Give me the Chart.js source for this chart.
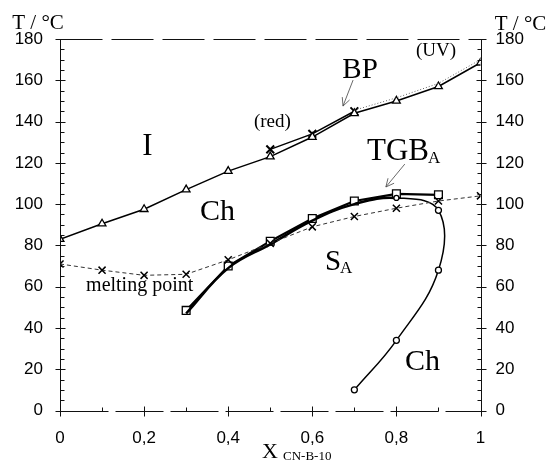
<!DOCTYPE html>
<html>
<head>
<meta charset="utf-8">
<script src="https://cdn.jsdelivr.net/npm/chart.js@4"></script>
<style>
html, body { margin: 0; padding: 0; background: #fff; }
#wrap { width: 551px; height: 468px; }
</style>
</head>
<body>
<div id="wrap"><canvas id="myChart" width="551" height="468"></canvas></div>
<script>
// mole fraction of CN-B-10
var compX = [0, 0.1, 0.2, 0.3, 0.4, 0.5, 0.6, 0.7, 0.8, 0.9, 1];
// clearing point I -> Ch (triangles)
var clearT = [83, 90.5, 97.5, 107, 116, 123, 132.5, 144, 150, 157, 168.5];
// blue phase, red light (crosses)
var redX = [0.5, 0.6, 0.7];
var redT = [126.5, 134, 145];
// UV measurement (dotted)
var uvX = [0.7, 0.8, 0.9, 1];
var uvT = [145.5, 151.5, 158.5, 170];
// melting point (dashed, crosses)
var meltT = [71, 68, 65.5, 66, 73, 81, 89, 94, 98, 101.5, 104];
// Ch -> TGBA (squares)
var tgbX = [0.3, 0.4, 0.5, 0.6, 0.7, 0.8, 0.9];
var tgbT = [48.5, 70, 82, 93, 101.5, 105, 104.5];
// SA boundary incl. re-entrant Ch (circles)
var saX = [0.3, 0.4, 0.5, 0.6, 0.7, 0.8, 0.9, 0.9, 0.8, 0.7];
var saT = [47, 69, 80.5, 92, 100, 103, 97, 68, 34, 10];

var xTickLabels = ['0', '0,2', '0,4', '0,6', '0,8', '1'];

function pts(xs, ys) {
    return xs.map(function (x, i) { return { x: x, y: ys[i] }; });
}

var serif = '"Liberation Serif", "Times New Roman", serif';

// texts inside the plot, positioned in data units
var notes = [
    { t: 'I', x: 0.208, y: 123.8, size: 31, align: 'center' },
    { t: 'Ch', x: 0.3745, y: 92.3, size: 30, align: 'center' },
    { t: 'BP', x: 0.7135, y: 161.1, size: 29, align: 'center' },
    { t: '(red)', x: 0.505, y: 137.3, size: 19, align: 'center' },
    { t: '(UV)', x: 0.894, y: 171.8, size: 19, align: 'center' },
    { t: 'TGB', x: 0.730, y: 121.4, size: 31, align: 'left' },
    { t: 'A', x: 0.875, y: 119.9, size: 17, align: 'left' },
    { t: 'S', x: 0.630, y: 68.1, size: 29, align: 'left' },
    { t: 'A', x: 0.666, y: 66.6, size: 17, align: 'left' },
    { t: 'melting point', x: 0.062, y: 57.9, size: 20, align: 'left' },
    { t: 'Ch', x: 0.862, y: 19.6, size: 30, align: 'center' }
];
var arrows = [
    { x0: 0.697, y0: 160.1, x1: 0.673, y1: 147.5 },
    { x0: 0.820, y0: 119.4, x1: 0.775, y1: 108.3 }
];

var overlay = {
    id: 'overlay',
    afterDraw: function (chart) {
        var c = chart.ctx, a = chart.chartArea;
        var xs = chart.scales.x, ys = chart.scales.y;
        var L = Math.round(a.left) + 0.5, R = Math.round(a.right) + 0.5;
        var T = Math.round(a.top) + 0.5, B = Math.round(a.bottom) + 0.5;
        function line(x0, y0, x1, y1) {
            c.beginPath(); c.moveTo(x0, y0); c.lineTo(x1, y1); c.stroke();
        }
        c.save();
        c.strokeStyle = '#111';
        c.lineWidth = 1;
        line(L, T, L, B);
        line(R, T, R, B);
        c.setLineDash([42, 9]);
        line(L, T, R, T);
        c.setLineDash([48, 7]);
        line(L, B, R, B);
        c.setLineDash([]);

        for (var v = 0; v <= 180; v += 5) {
            var y = Math.round(ys.getPixelForValue(v)) + 0.5;
            if (v % 20 === 0) {
                line(L - 5, y, L + 5, y);
                line(R - 5, y, R + 5, y);
            } else {
                line(L, y, L + 4, y);
                line(R - 4, y, R, y);
            }
        }
        for (var i = 0; i <= 10; i++) {
            var x = Math.round(xs.getPixelForValue(i / 10)) + 0.5;
            if (i % 2 === 0) line(x, B - 5, x, B + 5);
            else line(x, B - 4, x, B);
        }

        c.fillStyle = '#000';
        c.textBaseline = 'alphabetic';
        notes.forEach(function (n) {
            c.font = n.size + 'px ' + serif;
            c.textAlign = n.align;
            c.fillText(n.t, xs.getPixelForValue(n.x), ys.getPixelForValue(n.y));
        });

        c.strokeStyle = '#444';
        c.lineWidth = 0.8;
        arrows.forEach(function (ar) {
            var x0 = xs.getPixelForValue(ar.x0), y0 = ys.getPixelForValue(ar.y0);
            var x1 = xs.getPixelForValue(ar.x1), y1 = ys.getPixelForValue(ar.y1);
            var ang = Math.atan2(y1 - y0, x1 - x0);
            line(x0, y0, x1, y1);
            line(x1, y1, x1 - 9 * Math.cos(ang - 0.45), y1 - 9 * Math.sin(ang - 0.45));
            line(x1, y1, x1 - 9 * Math.cos(ang + 0.45), y1 - 9 * Math.sin(ang + 0.45));
        });

        // axis titles
        c.font = '21px ' + serif;
        c.textAlign = 'center';
        c.fillText('T / \u00B0C', a.left - 22, a.top - 10);
        c.fillText('T / \u00B0C', a.right + 40, a.top - 9);
        c.textAlign = 'left';
        c.font = '22px ' + serif;
        c.fillText('X', a.left + 202, a.bottom + 47);
        c.font = '13px ' + serif;
        c.fillText('CN-B-10', a.left + 223, a.bottom + 49);
        c.restore();
    }
};

function sizeAxis(w, h) {
    return function (s) {
        if (w !== null) s.width = w;
        if (h !== null) s.height = h;
    };
}

var tickFont = { family: '"Liberation Sans", Arial, sans-serif', size: 17 };
var noGrid = { display: true, drawOnChartArea: false, drawTicks: false };

var ctx = document.getElementById('myChart').getContext('2d');
var myChart = new Chart(ctx, {
    type: 'line',
    data: {
        datasets: [{
            label: 'melting point',
            data: pts(compX, meltT),
            borderColor: '#333',
            borderWidth: 1,
            borderDash: [4, 3],
            pointStyle: 'crossRot',
            pointRadius: 5,
            pointBorderColor: '#000',
            pointBorderWidth: 1.5
        }, {
            label: 'UV',
            data: pts(uvX, uvT),
            borderColor: '#666',
            borderWidth: 1,
            borderDash: [1, 2],
            pointRadius: 0
        }, {
            label: 'I-Ch',
            data: pts(compX, clearT),
            borderColor: '#000',
            borderWidth: 1.5,
            pointStyle: 'triangle',
            pointRadius: 4.5,
            pointBackgroundColor: '#fff',
            pointBorderColor: '#000',
            pointBorderWidth: 1.3
        }, {
            label: 'BP (red)',
            data: pts(redX, redT),
            borderColor: '#000',
            borderWidth: 1.5,
            pointStyle: 'crossRot',
            pointRadius: 5.5,
            pointBorderColor: '#000',
            pointBorderWidth: 2
        }, {
            label: 'SA',
            data: pts(saX, saT),
            borderColor: '#000',
            borderWidth: 2.5,
            tension: 0.4,
            segment: {
                borderWidth: function (s) { return s.p0DataIndex < 5 ? 2.5 : 1.5; }
            },
            pointStyle: 'circle',
            pointRadius: [0, 0, 0, 0, 0, 2.5, 3, 3, 3, 3],
            pointBackgroundColor: '#fff',
            pointBorderColor: '#000',
            pointBorderWidth: 1.3
        }, {
            label: 'TGBA',
            data: pts(tgbX, tgbT),
            borderColor: '#000',
            borderWidth: 2.2,
            pointStyle: 'rect',
            pointRadius: 5.5,
            pointBackgroundColor: '#fff',
            pointBorderColor: '#000',
            pointBorderWidth: 1.3
        }]
    },
    options: {
        responsive: false,
        animation: false,
        layout: { padding: { top: 39, left: 0, right: 0, bottom: 0 } },
        plugins: {
            legend: { display: false },
            tooltip: { enabled: false }
        },
        scales: {
            x: {
                type: 'linear',
                min: 0,
                max: 1,
                grid: noGrid,
                border: { display: false },
                ticks: {
                    stepSize: 0.2,
                    padding: 18,
                    color: '#000',
                    font: tickFont,
                    maxRotation: 0,
                    callback: function (v) {
                        return xTickLabels[Math.round(v * 5)];
                    }
                },
                afterFit: sizeAxis(null, 57.5)
            },
            y: {
                position: 'left',
                min: 0,
                max: 180,
                grid: noGrid,
                border: { display: false },
                ticks: { stepSize: 20, padding: 17, color: '#000', font: tickFont },
                afterFit: sizeAxis(60, null)
            },
            y2: {
                position: 'right',
                min: 0,
                max: 180,
                grid: noGrid,
                border: { display: false },
                ticks: { stepSize: 20, padding: 15, color: '#000', font: tickFont },
                afterFit: sizeAxis(70.5, null)
            }
        }
    },
    plugins: [overlay]
});
</script>
</body>
</html>
